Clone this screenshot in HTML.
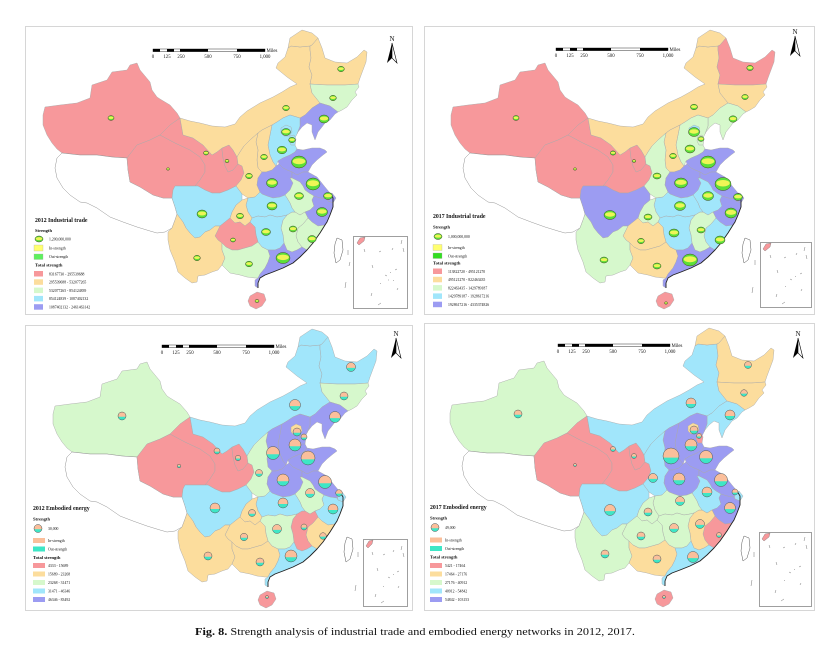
<!DOCTYPE html>
<html><head><meta charset="utf-8"><style>html,body{margin:0;padding:0;background:#fff}svg{display:block}text{font-family:"Liberation Serif",serif;fill:#111}</style></head><body>
<svg xmlns="http://www.w3.org/2000/svg" xmlns:xlink="http://www.w3.org/1999/xlink" width="832" height="650" viewBox="0 0 832 650">
<rect width="832" height="650" fill="#fff"/>
<defs>
<path id="xj" d="M180,118 L177,113 170,105 160,99 157,97 152,90 150,82 145,76 140,70 137,63 130,65 127,70 112,72 107,80 92,85 90,98 77,103 60,105 45,107 43,115 43,125 47,135 52,143 57,149 62,153 80,155 97,155 112,157 127,158 137,145 150,140 160,135 170,125 Z"/>
<path id="tb" d="M62,153 L80,155 97,155 112,157 127,158 128,170 130,182 140,187 153,195 163,198 172,198 175,207 177,214 175,220 172,228 165,232 157,233 150,231 137,227 123,222 110,217 97,208 87,203 80,202 70,195 63,188 57,178 55,168 57,158 Z"/>
<path id="qh" d="M127,158 L137,145 150,140 160,135 175,143 190,150 200,157 205,165 205,172 200,180 195,186 185,186 175,186 173,190 172,198 163,198 153,195 140,187 130,182 128,170 Z"/>
<path id="gs" d="M160,135 L170,125 180,118 183,135 193,138 203,145 212,155 217,152 222,148 222,150 223,158 225,166 228,172 233,170 238,164 242,166 244,173 241,180 236,186 228,190 220,193 212,193 205,190 198,186 195,186 200,180 205,172 205,165 200,157 190,150 175,143 Z"/>
<path id="nx" d="M222,148 L229,145 233,150 237,157 238,164 233,170 228,172 225,166 223,158 222,150 Z"/>
<path id="im" d="M180,118 L190,121 200,123 212,126 225,127 235,124 240,117 247,111 260,103 273,97 282,92 290,87 297,84 287,77 276,68 278,63 285,57 288,48 291,46 300,47 310,46 310,50 311,58 309,67 312,75 310,84 312,93 320,103 312,108 305,115 300,118 290,115 283,118 277,122 272,125 262,130 258,133 250,140 244,146 240,152 237,157 233,150 229,145 222,148 217,152 212,155 203,145 193,138 183,135 Z"/>
<path id="tip" d="M288,48 L290,38 302,30 312,33 318,38 312,45 310,46 300,47 291,46 Z"/>
<path id="hlj" d="M310,46 L312,45 318,38 322,48 325,58 335,62 347,63 357,57 364,50 367,52 366,62 363,70 360,78 358,84 345,85 327,85 310,84 312,75 309,67 311,58 310,50 Z"/>
<path id="jl" d="M310,84 L327,85 345,85 358,84 359,87 355,92 357,95 352,100 347,107 342,110 338,112 330,106 320,103 312,93 Z"/>
<path id="ln" d="M320,103 L330,106 338,112 335,114 330,120 325,123 322,127 318,132 315,140 312,132 312,125 307,123 302,127 298,132 297,134 300,126 300,118 305,115 312,108 Z"/>
<path id="hb" d="M300,118 L300,126 297,134 294,140 295,145 297,149 295,152 290,155 283,158 278,161 276,166 273,162 270,155 268,145 270,135 272,125 277,122 283,118 290,115 Z"/>
<path id="bj" d="M281,128 L286,125 291,127 292,132 289,136 284,136 281,133 Z"/>
<path id="tj" d="M290,136 L294,135 296,139 295,145 291,145 289,141 Z"/>
<path id="sx" d="M258,133 L262,130 272,125 270,135 268,145 270,155 273,162 276,166 272,170 266,172 262,172 258,168 257,160 258,150 256,142 Z"/>
<path id="snx" d="M258,133 L256,142 258,150 257,160 258,168 262,172 258,178 257,185 260,192 255,197 248,198 242,194 236,186 241,180 244,173 242,166 238,164 237,157 240,152 244,146 250,140 Z"/>
<path id="sd" d="M297,149 L303,150 312,148 320,148 325,150 327,152 323,155 317,160 312,165 308,172 303,172 297,175 292,172 287,170 283,168 279,164 278,161 283,158 290,155 295,152 Z"/>
<path id="hn" d="M266,172 L272,170 276,166 279,164 283,168 287,170 292,172 292,178 290,178 293,183 290,190 285,195 280,197 273,198 267,196 262,194 260,192 257,185 258,178 262,172 Z"/>
<path id="js" d="M292,172 L297,175 303,172 308,172 317,177 325,187 330,193 332,196 327,199 320,198 314,196 309,193 305,190 303,186 300,182 296,180 292,178 Z"/>
<path id="ah" d="M292,178 L296,180 300,182 303,186 305,190 309,193 314,196 312,200 314,206 310,210 305,212 300,215 295,212 292,208 290,203 287,198 285,195 290,190 293,183 290,178 Z"/>
<path id="sh" d="M327,195 L332,193 336,198 333,203 328,201 Z"/>
<path id="zj" d="M314,196 L320,198 327,199 328,201 333,203 333,207 330,215 327,222 325,225 318,226 312,222 308,218 305,212 310,210 314,206 312,200 Z"/>
<path id="fj" d="M325,225 L320,233 313,243 307,250 302,247 298,242 296,236 298,228 303,224 308,218 312,222 318,226 Z"/>
<path id="jx" d="M300,215 L305,212 308,218 303,224 298,228 296,236 298,242 302,247 297,250 292,252 287,250 284,243 283,235 281,228 283,220 287,215 292,212 295,212 Z"/>
<path id="hub" d="M248,198 L255,197 260,192 262,194 267,196 273,198 280,197 285,195 287,198 290,203 292,208 295,212 292,212 287,215 283,216 277,217 270,215 265,217 258,216 252,218 248,212 246,205 Z"/>
<path id="hun" d="M252,218 L258,216 265,217 270,215 277,217 283,216 287,215 283,220 281,228 283,235 284,243 280,248 275,250 268,250 262,247 258,242 256,235 255,227 250,222 Z"/>
<path id="cq" d="M236,205 L242,200 248,198 246,205 248,212 252,218 250,222 245,226 240,222 235,223 230,218 232,212 Z"/>
<path id="sc" d="M175,186 L185,186 195,186 198,186 205,190 212,193 220,193 228,190 236,186 242,194 242,200 236,205 232,212 230,218 225,222 220,226 215,226 210,230 205,232 200,237 195,238 190,233 186,228 183,222 177,214 175,207 172,198 173,190 Z"/>
<path id="gz" d="M225,222 L230,218 235,223 240,222 245,226 250,222 255,227 256,235 258,242 252,246 245,248 238,250 232,250 226,247 222,243 218,240 215,236 218,230 220,226 Z"/>
<path id="yn" d="M175,220 L177,214 183,222 186,228 190,233 195,238 200,237 205,232 210,230 215,226 220,226 218,230 215,236 218,240 222,243 222,250 225,258 222,265 218,270 212,272 205,275 198,276 197,282 192,283 185,278 178,272 175,262 170,250 168,240 168,232 172,228 Z"/>
<path id="gx" d="M222,243 L226,247 232,250 238,250 245,248 252,246 258,242 262,247 268,250 270,256 268,262 265,268 260,274 258,278 255,278 247,277 240,275 230,273 225,268 222,265 225,258 222,250 Z"/>
<path id="gd" d="M268,250 L275,250 280,248 284,243 287,250 292,252 297,250 302,247 307,250 300,257 293,263 283,268 273,272 265,275 260,278 258,283 258,288 255,286 255,280 258,278 260,274 265,268 268,262 270,256 Z"/>
<path id="hi" d="M250,296 L257,292 264,294 266,300 262,306 256,309 250,306 248,301 Z"/>
<path id="tw" d="M337,238 L342,240 343,250 340,260 336,263 334,253 335,244 Z"/>
<g id="bub"><ellipse rx="1" ry="1" fill="#5cdf3a" stroke="#3f4a20" stroke-width="0.5" vector-effect="non-scaling-stroke"/><ellipse cy="-0.12" rx="0.84" ry="0.5" fill="#eef556"/></g>
<g id="pie"><circle r="1" fill="#3ee6c6"/><path d="M-0.98,0.2 A1,1 0 1 1 0.98,0.2 Z" fill="#fbbf9b"/><circle r="1" fill="none" stroke="#555" stroke-width="0.5" vector-effect="non-scaling-stroke"/></g>
<polyline id="coast" points="330,193 333,198 333,203 333,207 330,215 327,222 325,225 320,233 313,243 307,250 300,257 293,263 283,268 273,272 265,275 260,278 258,283 258,288" fill="none" stroke="#222" stroke-width="0.9"/>
</defs>

<!-- frames -->
<rect x="25.5" y="26.5" width="387" height="288" fill="none" stroke="#d6d6d6" stroke-width="1"/>
<rect x="424.5" y="26.5" width="390" height="288" fill="none" stroke="#d6d6d6" stroke-width="1"/>
<rect x="25.5" y="325.5" width="387" height="285" fill="none" stroke="#d6d6d6" stroke-width="1"/>
<rect x="424.5" y="323.5" width="390" height="287" fill="none" stroke="#d6d6d6" stroke-width="1"/>

<!-- ===== TL map ===== -->
<g transform="translate(0,0)" stroke="#a9a9a9" stroke-width="0.45" stroke-linejoin="round">
<use href="#xj" fill="#f7989b"/><use href="#tb" fill="#fff" stroke="#888"/><use href="#qh" fill="#f7989b"/><use href="#gs" fill="#f7989b"/><use href="#nx" fill="#f7989b"/>
<use href="#im" fill="#fcdd9d"/><use href="#tip" fill="#fcdd9d"/><use href="#hlj" fill="#fcdd9d"/><use href="#jl" fill="#d6f8cc"/><use href="#ln" fill="#9c9cf2"/>
<use href="#hb" fill="#a1e6fb"/><use href="#bj" fill="#a1e6fb"/><use href="#tj" fill="#a1e6fb"/><use href="#sx" fill="#fcdd9d"/><use href="#snx" fill="#fcdd9d"/>
<use href="#sd" fill="#9c9cf2"/><use href="#hn" fill="#9c9cf2"/><use href="#js" fill="#9c9cf2"/><use href="#ah" fill="#d6f8cc"/><use href="#sh" fill="#9c9cf2"/>
<use href="#zj" fill="#9c9cf2"/><use href="#fj" fill="#d6f8cc"/><use href="#jx" fill="#d6f8cc"/><use href="#hub" fill="#a1e6fb"/><use href="#hun" fill="#a1e6fb"/>
<use href="#cq" fill="#fcdd9d"/><use href="#sc" fill="#a1e6fb"/><use href="#gz" fill="#f7989b"/><use href="#yn" fill="#fcdd9d"/><use href="#gx" fill="#d6f8cc"/>
<use href="#gd" fill="#9c9cf2"/><use href="#hi" fill="#f7989b"/><use href="#tw" fill="#fff" stroke="#444"/>
<use href="#coast"/>
</g>
<g>
<use href="#bub" transform="translate(111,118) scale(3,2.4)"/><use href="#bub" transform="translate(168,169) scale(1.5,1.2)"/><use href="#bub" transform="translate(206,153) scale(2.5,2)"/><use href="#bub" transform="translate(227,161) scale(2,1.6)"/>
<use href="#bub" transform="translate(286,108) scale(3.3,2.7)"/><use href="#bub" transform="translate(341,69) scale(3.3,2.7)"/><use href="#bub" transform="translate(333,98) scale(3.3,2.7)"/><use href="#bub" transform="translate(324,119) scale(5,4)"/>
<use href="#bub" transform="translate(286,132) scale(4.5,3.5)"/><use href="#bub" transform="translate(292,140) scale(3.3,2.7)"/><use href="#bub" transform="translate(282,150) scale(4.7,3.8)"/><use href="#bub" transform="translate(264,157) scale(3.3,2.7)"/>
<use href="#bub" transform="translate(299,162) scale(7.5,6)"/><use href="#bub" transform="translate(249,176) scale(3.3,2.7)"/><use href="#bub" transform="translate(272,183) scale(5.5,4.5)"/><use href="#bub" transform="translate(313,184) scale(7,6)"/>
<use href="#bub" transform="translate(328,196) scale(4.5,3.5)"/><use href="#bub" transform="translate(299,196) scale(4.5,3.5)"/><use href="#bub" transform="translate(272,206) scale(5,4)"/><use href="#bub" transform="translate(322,212) scale(5.5,4.5)"/>
<use href="#bub" transform="translate(240,216) scale(3.5,2.8)"/><use href="#bub" transform="translate(202,214) scale(5,4)"/><use href="#bub" transform="translate(266,232) scale(4.5,3.5)"/><use href="#bub" transform="translate(293,229) scale(3.8,3)"/>
<use href="#bub" transform="translate(312,239) scale(4.2,3.5)"/><use href="#bub" transform="translate(233,240) scale(2.5,2)"/><use href="#bub" transform="translate(197,258) scale(3.3,2.7)"/><use href="#bub" transform="translate(249,264) scale(3.5,2.8)"/>
<use href="#bub" transform="translate(283,258) scale(7,5.5)"/><use href="#bub" transform="translate(257,301) scale(2,1.5)"/>
</g>

<!-- ===== TR map ===== -->
<g transform="translate(408,0)" stroke="#a9a9a9" stroke-width="0.45" stroke-linejoin="round">
<use href="#xj" fill="#f7989b"/><use href="#tb" fill="#fff" stroke="#888"/><use href="#qh" fill="#f7989b"/><use href="#gs" fill="#f7989b"/><use href="#nx" fill="#f7989b"/>
<use href="#im" fill="#fcdd9d"/><use href="#tip" fill="#fcdd9d"/><use href="#hlj" fill="#f7989b"/><use href="#jl" fill="#fcdd9d"/><use href="#ln" fill="#d6f8cc"/>
<use href="#hb" fill="#d6f8cc"/><use href="#bj" fill="#a1e6fb"/><use href="#tj" fill="#d6f8cc"/><use href="#sx" fill="#fcdd9d"/><use href="#snx" fill="#d6f8cc"/>
<use href="#sd" fill="#9c9cf2"/><use href="#hn" fill="#9c9cf2"/><use href="#js" fill="#9c9cf2"/><use href="#ah" fill="#a1e6fb"/><use href="#sh" fill="#9c9cf2"/>
<use href="#zj" fill="#9c9cf2"/><use href="#fj" fill="#a1e6fb"/><use href="#jx" fill="#d6f8cc"/><use href="#hub" fill="#a1e6fb"/><use href="#hun" fill="#a1e6fb"/>
<use href="#cq" fill="#d6f8cc"/><use href="#sc" fill="#9c9cf2"/><use href="#gz" fill="#fcdd9d"/><use href="#yn" fill="#d6f8cc"/><use href="#gx" fill="#fcdd9d"/>
<use href="#gd" fill="#9c9cf2"/><use href="#hi" fill="#f7989b"/><use href="#tw" fill="#fff" stroke="#444"/>
<use href="#coast"/>
</g>
<g transform="translate(408,0)">
<use href="#bub" transform="translate(108,118) scale(3,2.5)"/><use href="#bub" transform="translate(167,169) scale(1.5,1.2)"/><use href="#bub" transform="translate(205,153) scale(2.7,2.1)"/><use href="#bub" transform="translate(226,161) scale(1.8,1.4)"/>
<use href="#bub" transform="translate(342,68) scale(3.2,2.6)"/><use href="#bub" transform="translate(337,97) scale(3.2,2.6)"/><use href="#bub" transform="translate(286,107) scale(3.5,2.8)"/><use href="#bub" transform="translate(325,119) scale(4,3.2)"/>
<use href="#bub" transform="translate(286,132) scale(5.5,4.5)"/><use href="#bub" transform="translate(293,139) scale(3,2.4)"/><use href="#bub" transform="translate(282,149) scale(5,4)"/><use href="#bub" transform="translate(265,156) scale(3.3,2.7)"/>
<use href="#bub" transform="translate(300,162) scale(7.5,6)"/><use href="#bub" transform="translate(249,176) scale(4,3)"/><use href="#bub" transform="translate(273,183) scale(6.5,5)"/><use href="#bub" transform="translate(315,184) scale(8,6.5)"/>
<use href="#bub" transform="translate(300,196) scale(5.5,4.5)"/><use href="#bub" transform="translate(330,197) scale(4.5,3.5)"/><use href="#bub" transform="translate(272,206) scale(5.5,4.5)"/><use href="#bub" transform="translate(323,213) scale(6,5)"/>
<use href="#bub" transform="translate(240,217) scale(4,3)"/><use href="#bub" transform="translate(202,215) scale(6,4.5)"/><use href="#bub" transform="translate(266,233) scale(5,4)"/><use href="#bub" transform="translate(293,230) scale(4,3)"/>
<use href="#bub" transform="translate(312,240) scale(5,4)"/><use href="#bub" transform="translate(233,241) scale(3.3,2.7)"/><use href="#bub" transform="translate(196,260) scale(4,3)"/><use href="#bub" transform="translate(249,266) scale(4,3)"/>
<use href="#bub" transform="translate(282,260) scale(7.5,6)"/><use href="#bub" transform="translate(258,303) scale(1.5,1.2)"/>
</g>

<!-- ===== BL map ===== -->
<g transform="translate(10,299)" stroke="#a9a9a9" stroke-width="0.45" stroke-linejoin="round">
<use href="#xj" fill="#d6f8cc"/><use href="#tb" fill="#fff" stroke="#888"/><use href="#qh" fill="#f7989b"/><use href="#gs" fill="#f7989b"/><use href="#nx" fill="#f7989b"/>
<use href="#im" fill="#a1e6fb"/><use href="#tip" fill="#a1e6fb"/><use href="#hlj" fill="#a1e6fb"/><use href="#jl" fill="#d6f8cc"/><use href="#ln" fill="#9c9cf2"/>
<use href="#hb" fill="#9c9cf2"/><use href="#bj" fill="#fcdd9d"/><use href="#tj" fill="#9c9cf2"/><use href="#sx" fill="#9c9cf2"/><use href="#snx" fill="#d6f8cc"/>
<use href="#sd" fill="#9c9cf2"/><use href="#hn" fill="#9c9cf2"/><use href="#js" fill="#9c9cf2"/><use href="#ah" fill="#d6f8cc"/><use href="#sh" fill="#a1e6fb"/>
<use href="#zj" fill="#a1e6fb"/><use href="#fj" fill="#fcdd9d"/><use href="#jx" fill="#f7989b"/><use href="#hub" fill="#a1e6fb"/><use href="#hun" fill="#d6f8cc"/>
<use href="#cq" fill="#fcdd9d"/><use href="#sc" fill="#a1e6fb"/><use href="#gz" fill="#fcdd9d"/><use href="#yn" fill="#fcdd9d"/><use href="#gx" fill="#fcdd9d"/>
<use href="#gd" fill="#a1e6fb"/><use href="#hi" fill="#f7989b"/><use href="#tw" fill="#fff" stroke="#444"/>
<use href="#coast"/>
</g>
<g transform="translate(10,299)">
<use href="#pie" transform="translate(112,117) scale(4)"/><use href="#pie" transform="translate(169,167) scale(1.8)"/><use href="#pie" transform="translate(207,152) scale(3)"/><use href="#pie" transform="translate(228,159) scale(2.7)"/>
<use href="#pie" transform="translate(285,106) scale(5.5)"/><use href="#pie" transform="translate(341,68) scale(4.5)"/><use href="#pie" transform="translate(334,97) scale(4)"/><use href="#pie" transform="translate(325,118) scale(5.5)"/>
<use href="#pie" transform="translate(287,133) scale(4)"/><use href="#pie" transform="translate(294,138) scale(3)"/><use href="#pie" transform="translate(285,146) scale(6)"/><use href="#pie" transform="translate(263,154) scale(6.5)"/>
<use href="#pie" transform="translate(298,159) scale(7)"/><use href="#pie" transform="translate(249,174) scale(3.5)"/><use href="#pie" transform="translate(273,181) scale(6)"/><use href="#pie" transform="translate(315,183) scale(6.5)"/>
<use href="#pie" transform="translate(300,194) scale(4.5)"/><use href="#pie" transform="translate(329,194) scale(3.3)"/><use href="#pie" transform="translate(273,204) scale(5)"/><use href="#pie" transform="translate(323,210) scale(5)"/>
<use href="#pie" transform="translate(242,214) scale(3.5)"/><use href="#pie" transform="translate(205,209) scale(5)"/><use href="#pie" transform="translate(267,230) scale(4.5)"/><use href="#pie" transform="translate(294,228) scale(3)"/>
<use href="#pie" transform="translate(313,237) scale(3.3)"/><use href="#pie" transform="translate(234,238) scale(3.7)"/><use href="#pie" transform="translate(198,257) scale(4)"/><use href="#pie" transform="translate(250,263) scale(4)"/>
<use href="#pie" transform="translate(281,257) scale(6)"/><use href="#pie" transform="translate(257,298) scale(1.5)"/>
</g>

<!-- ===== BR map ===== -->
<g transform="translate(407,298)" stroke="#a9a9a9" stroke-width="0.45" stroke-linejoin="round">
<use href="#xj" fill="#d6f8cc"/><use href="#tb" fill="#fff" stroke="#888"/><use href="#qh" fill="#f7989b"/><use href="#gs" fill="#f7989b"/><use href="#nx" fill="#f7989b"/>
<use href="#im" fill="#a1e6fb"/><use href="#tip" fill="#fcdd9d"/><use href="#hlj" fill="#fcdd9d"/><use href="#jl" fill="#fcdd9d"/><use href="#ln" fill="#a1e6fb"/>
<use href="#hb" fill="#9c9cf2"/><use href="#bj" fill="#fcdd9d"/><use href="#tj" fill="#f7989b"/><use href="#sx" fill="#9c9cf2"/><use href="#snx" fill="#a1e6fb"/>
<use href="#sd" fill="#9c9cf2"/><use href="#hn" fill="#9c9cf2"/><use href="#js" fill="#9c9cf2"/><use href="#ah" fill="#a1e6fb"/><use href="#sh" fill="#a1e6fb"/>
<use href="#zj" fill="#9c9cf2"/><use href="#fj" fill="#f7989b"/><use href="#jx" fill="#fcdd9d"/><use href="#hub" fill="#d6f8cc"/><use href="#hun" fill="#d6f8cc"/>
<use href="#cq" fill="#d6f8cc"/><use href="#sc" fill="#a1e6fb"/><use href="#gz" fill="#d6f8cc"/><use href="#yn" fill="#d6f8cc"/><use href="#gx" fill="#fcdd9d"/>
<use href="#gd" fill="#a1e6fb"/><use href="#hi" fill="#f7989b"/><use href="#tw" fill="#fff" stroke="#444"/>
<use href="#coast"/>
</g>
<g transform="translate(407,298)">
<use href="#pie" transform="translate(111,116) scale(4)"/><use href="#pie" transform="translate(168,167) scale(1.5)"/><use href="#pie" transform="translate(206,151) scale(2.5)"/><use href="#pie" transform="translate(227,158) scale(2.5)"/>
<use href="#pie" transform="translate(341,67) scale(3.5)"/><use href="#pie" transform="translate(337,95) scale(3.3)"/><use href="#pie" transform="translate(284,105) scale(5)"/><use href="#pie" transform="translate(323,117) scale(5)"/>
<use href="#pie" transform="translate(287,132) scale(4)"/><use href="#pie" transform="translate(292,138) scale(2.5)"/><use href="#pie" transform="translate(284,147) scale(6)"/><use href="#pie" transform="translate(264,158) scale(8)"/>
<use href="#pie" transform="translate(299,159) scale(6.5)"/><use href="#pie" transform="translate(246,180) scale(4.5)"/><use href="#pie" transform="translate(272,181) scale(6)"/><use href="#pie" transform="translate(314,182) scale(6.5)"/>
<use href="#pie" transform="translate(300,194) scale(5)"/><use href="#pie" transform="translate(328,194) scale(3)"/><use href="#pie" transform="translate(273,203) scale(4.5)"/><use href="#pie" transform="translate(323,210) scale(5.5)"/>
<use href="#pie" transform="translate(241,214) scale(4)"/><use href="#pie" transform="translate(203,212) scale(5.5)"/><use href="#pie" transform="translate(267,230) scale(4.5)"/><use href="#pie" transform="translate(293,226) scale(4.5)"/>
<use href="#pie" transform="translate(312,237) scale(2.5)"/><use href="#pie" transform="translate(234,238) scale(4)"/><use href="#pie" transform="translate(198,256) scale(4)"/><use href="#pie" transform="translate(250,261) scale(4)"/>
<use href="#pie" transform="translate(286,259) scale(5.5)"/><use href="#pie" transform="translate(257,299) scale(1.5)"/>
</g>

<!-- ===== insets ===== -->
<g fill="none" stroke="#777" stroke-width="0.5">
<rect x="353.5" y="236.5" width="54" height="72" stroke="#888" stroke-width="0.8"/>
<rect x="760.5" y="242.5" width="51" height="65" stroke="#888" stroke-width="0.8"/>
<rect x="363.5" y="539.5" width="44" height="67" stroke="#888" stroke-width="0.8"/>
<rect x="759.5" y="532.5" width="52" height="74" stroke="#888" stroke-width="0.8"/>
</g>
<g fill="#f7989b" stroke="#777" stroke-width="0.4">
<path d="M357,243 L360,238 365,237 364,241 359,245 Z"/>
<path d="M763,249 L766,244 771,243 770,247 765,251 Z"/>
<path d="M366,546 L369,541 373,540 372,544 368,548 Z"/>
<path d="M762,539 L765,534 770,533 769,537 764,541 Z"/>
</g>
<g stroke="#777" stroke-width="0.5" fill="none">
<path d="M364,249 l1,3 M379,252 l2,-1 M392,250 l1,-2 M402,240 l-1,4 M403,248 l1,4 M372,265 l1,3 M385,275 l2,1 M390,272 l1,1 M395,270 l2,-1 M380,283 l1,1 M372,293 l-1,3 M378,305 l3,-2 M397,290 l1,-2 M388,280 l1,0 M393,280 l1,1"/>
<path d="M348,250 l0,5 M346,282 l-1,6 M350,262 l-1,4"/>
<path d="M770,255 l1,3 M784,258 l2,-1 M796,255 l1,-2 M805,247 l-1,4 M806,255 l1,4 M777,270 l1,3 M790,279 l2,1 M795,276 l1,1 M800,274 l2,-1 M785,286 l1,1 M777,294 l-1,3 M782,304 l3,-2 M801,291 l1,-2"/>
<path d="M755,260 l0,5 M753,287 l-1,6"/>
<path d="M372,552 l1,3 M383,555 l2,-1 M393,552 l1,-2 M402,546 l-1,4 M403,553 l1,4 M377,568 l1,3 M388,577 l2,1 M393,574 l1,1 M397,572 l2,-1 M383,586 l1,1 M376,594 l-1,3 M381,603 l3,-2 M398,588 l1,-2"/>
<path d="M358,552 l0,5 M356,585 l-1,6"/>
<path d="M769,545 l1,3 M783,548 l2,-1 M795,545 l1,-2 M805,537 l-1,4 M806,545 l1,4 M776,562 l1,3 M789,572 l2,1 M794,569 l1,1 M799,567 l2,-1 M784,580 l1,1 M776,590 l-1,3 M781,601 l3,-2 M800,585 l1,-2"/>
<path d="M754,552 l0,5 M752,580 l-1,6"/>
</g>

<!-- ===== scale bars ===== -->
<g transform="translate(153,49)">
<rect x="0" y="0" width="112" height="2.6" fill="#fff" stroke="#000" stroke-width="0.4"/>
<rect x="0" y="0" width="7" height="2.6" fill="#000"/><rect x="14" y="0" width="7" height="2.6" fill="#000"/><rect x="27" y="0" width="28" height="2.6" fill="#000"/><rect x="84" y="0" width="28" height="2.6" fill="#000"/>
<g font-size="4.8" text-anchor="middle"><text x="0" y="9">0</text><text x="14" y="9">125</text><text x="28" y="9">250</text><text x="55" y="9">500</text><text x="84" y="9">750</text><text x="112" y="9">1,000</text></g>
<text x="113.5" y="3" font-size="4.8">Miles</text>
</g>
<g transform="translate(556,48)">
<rect x="0" y="0" width="112" height="2.6" fill="#fff" stroke="#000" stroke-width="0.4"/>
<rect x="0" y="0" width="7" height="2.6" fill="#000"/><rect x="14" y="0" width="7" height="2.6" fill="#000"/><rect x="27" y="0" width="28" height="2.6" fill="#000"/><rect x="84" y="0" width="28" height="2.6" fill="#000"/>
<g font-size="4.8" text-anchor="middle"><text x="0" y="9">0</text><text x="14" y="9">125</text><text x="28" y="9">250</text><text x="55" y="9">500</text><text x="84" y="9">750</text><text x="112" y="9">1,000</text></g>
<text x="113.5" y="3" font-size="4.8">Miles</text>
</g>
<g transform="translate(162,345)">
<rect x="0" y="0" width="112" height="2.6" fill="#fff" stroke="#000" stroke-width="0.4"/>
<rect x="0" y="0" width="7" height="2.6" fill="#000"/><rect x="14" y="0" width="7" height="2.6" fill="#000"/><rect x="27" y="0" width="28" height="2.6" fill="#000"/><rect x="84" y="0" width="28" height="2.6" fill="#000"/>
<g font-size="4.8" text-anchor="middle"><text x="0" y="9">0</text><text x="14" y="9">125</text><text x="28" y="9">250</text><text x="55" y="9">500</text><text x="84" y="9">750</text><text x="112" y="9">1,000</text></g>
<text x="113.5" y="3" font-size="4.8">Miles</text>
</g>
<g transform="translate(558,344)">
<rect x="0" y="0" width="112" height="2.6" fill="#fff" stroke="#000" stroke-width="0.4"/>
<rect x="0" y="0" width="7" height="2.6" fill="#000"/><rect x="14" y="0" width="7" height="2.6" fill="#000"/><rect x="27" y="0" width="28" height="2.6" fill="#000"/><rect x="84" y="0" width="28" height="2.6" fill="#000"/>
<g font-size="4.8" text-anchor="middle"><text x="0" y="9">0</text><text x="14" y="9">125</text><text x="28" y="9">250</text><text x="55" y="9">500</text><text x="84" y="9">750</text><text x="112" y="9">1,000</text></g>
<text x="113.5" y="3" font-size="4.8">Miles</text>
</g>

<!-- ===== north arrows ===== -->
<g transform="translate(392,36)"><text x="0" y="5" font-size="7" text-anchor="middle">N</text><path d="M0,7 L-5,27 L0,22 Z" fill="#000"/><path d="M0,7 L5,27 L0,22 Z" fill="#fff" stroke="#000" stroke-width="0.6"/></g>
<g transform="translate(795,29)"><text x="0" y="5" font-size="7" text-anchor="middle">N</text><path d="M0,7 L-5,27 L0,22 Z" fill="#000"/><path d="M0,7 L5,27 L0,22 Z" fill="#fff" stroke="#000" stroke-width="0.6"/></g>
<g transform="translate(396,331)"><text x="0" y="5" font-size="7" text-anchor="middle">N</text><path d="M0,7 L-5,27 L0,22 Z" fill="#000"/><path d="M0,7 L5,27 L0,22 Z" fill="#fff" stroke="#000" stroke-width="0.6"/></g>
<g transform="translate(798,331)"><text x="0" y="5" font-size="7" text-anchor="middle">N</text><path d="M0,7 L-5,27 L0,22 Z" fill="#000"/><path d="M0,7 L5,27 L0,22 Z" fill="#fff" stroke="#000" stroke-width="0.6"/></g>

<!-- ===== legends ===== -->
<g>
<text x="35" y="222" font-size="5.8" font-weight="bold">2012 Industrial trade</text>
<text x="35" y="232" font-size="4.6" font-weight="bold">Strength</text>
<use href="#bub" transform="translate(39,239) scale(4,3)"/>
<text x="49" y="240.5" font-size="3.8">1,200,000,000</text>
<rect x="34" y="245" width="9" height="6" fill="#ffff70" stroke="#aaa" stroke-width="0.3"/><text x="49" y="249.5" font-size="3.8">In-strength</text>
<rect x="34" y="254" width="9" height="5.5" fill="#5ef05e" stroke="#aaa" stroke-width="0.3"/><text x="49" y="258" font-size="3.8">Out-strength</text>
<text x="35" y="266.5" font-size="4.6" font-weight="bold">Total strength</text>
<rect x="34" y="271" width="9" height="5.5" fill="#f7989b"/><text x="49" y="275.3" font-size="3.8">83167730 - 295539688</text>
<rect x="34" y="279.3" width="9" height="5.5" fill="#fcdd9d"/><text x="49" y="283.6" font-size="3.8">295539688 - 532077265</text>
<rect x="34" y="287.6" width="9" height="5.5" fill="#d6f8cc"/><text x="49" y="291.9" font-size="3.8">532077265 - 854124839</text>
<rect x="34" y="295.9" width="9" height="5.5" fill="#a1e6fb"/><text x="49" y="300.2" font-size="3.8">854124839 - 1087402132</text>
<rect x="34" y="304.2" width="9" height="5.5" fill="#9c9cf2"/><text x="49" y="308.5" font-size="3.8">1087402132 - 2461463142</text>
</g>
<g>
<text x="433" y="218" font-size="5.8" font-weight="bold">2017 Industrial trade</text>
<text x="433" y="228.5" font-size="4.6" font-weight="bold">Strength</text>
<use href="#bub" transform="translate(438,236.5) scale(4,3)"/>
<text x="448" y="238" font-size="3.8">1,000,000,000</text>
<rect x="433" y="244.5" width="9" height="6" fill="#ffff70" stroke="#aaa" stroke-width="0.3"/><text x="448" y="249" font-size="3.8">In-strength</text>
<rect x="433" y="253" width="9" height="5.5" fill="#33dd22" stroke="#aaa" stroke-width="0.3"/><text x="448" y="257.3" font-size="3.8">Out-strength</text>
<text x="433" y="264.5" font-size="4.6" font-weight="bold">Total strength</text>
<rect x="433" y="268.5" width="9" height="5.5" fill="#f7989b"/><text x="448" y="272.8" font-size="3.8">113822720 - 495121270</text>
<rect x="433" y="276.8" width="9" height="5.5" fill="#fcdd9d"/><text x="448" y="281.1" font-size="3.8">495121270 - 822463435</text>
<rect x="433" y="285.1" width="9" height="5.5" fill="#d6f8cc"/><text x="448" y="289.4" font-size="3.8">822463435 - 1429789187</text>
<rect x="433" y="293.4" width="9" height="5.5" fill="#a1e6fb"/><text x="448" y="297.7" font-size="3.8">1429789187 - 1928617216</text>
<rect x="433" y="301.7" width="9" height="5.5" fill="#9c9cf2"/><text x="448" y="306" font-size="3.8">1928617216 - 4335374826</text>
</g>
<g>
<text x="33" y="510" font-size="5.8" font-weight="bold">2012 Embodied energy</text>
<text x="33" y="520.5" font-size="4.6" font-weight="bold">Strength</text>
<use href="#pie" transform="translate(38,528.5) scale(4)"/>
<text x="48" y="530" font-size="3.8">30,000</text>
<rect x="33" y="538" width="12" height="5" fill="#fbbf9b"/><text x="48" y="542" font-size="3.8">In-strength</text>
<rect x="33" y="546.5" width="12" height="5" fill="#3ee6c6"/><text x="48" y="550.5" font-size="3.8">Out-strength</text>
<text x="33" y="559" font-size="4.6" font-weight="bold">Total strength</text>
<rect x="33" y="563" width="12" height="5" fill="#f7989b"/><text x="48" y="567" font-size="3.8">4333 - 15689</text>
<rect x="33" y="571.5" width="12" height="5" fill="#fcdd9d"/><text x="48" y="575.5" font-size="3.8">15689 - 23268</text>
<rect x="33" y="580" width="12" height="5" fill="#d6f8cc"/><text x="48" y="584" font-size="3.8">23268 - 31471</text>
<rect x="33" y="588.5" width="12" height="5" fill="#a1e6fb"/><text x="48" y="592.5" font-size="3.8">31471 - 46346</text>
<rect x="33" y="597" width="12" height="5" fill="#9c9cf2"/><text x="48" y="601" font-size="3.8">46346 - 83492</text>
</g>
<g>
<text x="430" y="509" font-size="5.8" font-weight="bold">2017 Embodied energy</text>
<text x="430" y="519.5" font-size="4.6" font-weight="bold">Strength</text>
<use href="#pie" transform="translate(435,527.5) scale(4)"/>
<text x="445" y="529" font-size="3.8">49,000</text>
<rect x="430" y="537.5" width="12" height="5" fill="#fbbf9b"/><text x="445" y="541.5" font-size="3.8">In-strength</text>
<rect x="430" y="546" width="12" height="5" fill="#3ee6c6"/><text x="445" y="550" font-size="3.8">Out-strength</text>
<text x="430" y="558.5" font-size="4.6" font-weight="bold">Total strength</text>
<rect x="430" y="563" width="12" height="5" fill="#f7989b"/><text x="445" y="567" font-size="3.8">5421 - 17464</text>
<rect x="430" y="571.5" width="12" height="5" fill="#fcdd9d"/><text x="445" y="575.5" font-size="3.8">17464 - 27176</text>
<rect x="430" y="580" width="12" height="5" fill="#d6f8cc"/><text x="445" y="584" font-size="3.8">27176 - 40912</text>
<rect x="430" y="588.5" width="12" height="5" fill="#a1e6fb"/><text x="445" y="592.5" font-size="3.8">40912 - 54842</text>
<rect x="430" y="597" width="12" height="5" fill="#9c9cf2"/><text x="445" y="601" font-size="3.8">54842 - 103153</text>
</g>

<!-- caption -->
<text x="195" y="635" font-size="11" textLength="440" lengthAdjust="spacingAndGlyphs"><tspan font-weight="bold">Fig. 8.</tspan> Strength analysis of industrial trade and embodied energy networks in 2012, 2017.</text>
</svg>
</body></html>
